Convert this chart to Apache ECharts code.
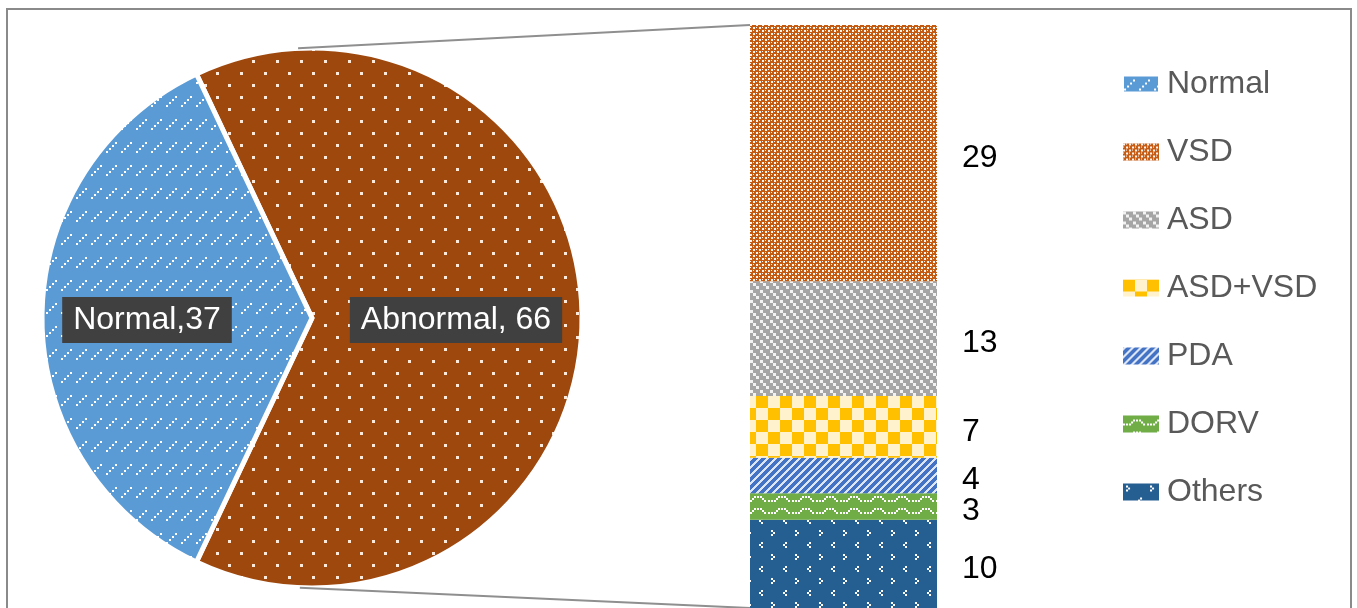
<!DOCTYPE html>
<html>
<head>
<meta charset="utf-8">
<script src="https://cdn.jsdelivr.net/npm/echarts@6/dist/echarts.min.js"></script>
<style>
html,body{margin:0;padding:0;background:#fff;}
#chart{width:1357px;height:608px;}
</style>
</head>
<body>
<div id="chart"></div>
<script>
// ---- data ----
const pieNames = ['Abnormal', 'Normal'];
const pieValues = [66, 37];
const barNames = ['VSD', 'ASD', 'ASD+VSD', 'PDA', 'DORV', 'Others'];
const barValues = [29, 13, 7, 4, 3, 10];
const legendNames = ['Normal', 'VSD', 'ASD', 'ASD+VSD', 'PDA', 'DORV', 'Others'];

// ---- pattern helpers ----
function tile(w, h, bg, draw) {
  const c = document.createElement('canvas');
  c.width = w; c.height = h;
  const g = c.getContext('2d');
  g.fillStyle = bg; g.fillRect(0, 0, w, h);
  g.fillStyle = '#fff';
  draw(g, w, h);
  return { image: c, repeat: 'repeat' };
}
function wrapRect(g, x, y, rw, rh, w, h) {
  for (const dx of [-w, 0, w]) for (const dy of [-h, 0, h]) g.fillRect(x + dx, y + dy, rw, rh);
}
const patterns = {
  'Normal': tile(15, 23, '#5B9BD5', g => {
    [[0, 9], [3, 6], [6, 3], [9, 0]].forEach(([x, y]) => g.fillRect(x + 1, y + 4, 2, 2));
  }),
  'Abnormal': tile(24, 24, '#9E480E', g => {
    g.fillStyle = '#fde9d9'; g.fillRect(0, 0, 3, 3); g.fillRect(12, 12, 3, 3);
  }),
  'VSD': tile(6, 6, '#C55A11', g => {
    g.fillStyle = '#fff5ee';
    g.fillRect(0, 0, 2, 2); g.fillRect(3, 3, 2, 2); g.fillRect(0, 3, 1, 1); g.fillRect(3, 0, 1, 1);
  }),
  'ASD': tile(10, 10, '#A5A5A5', (g, w, h) => {
    g.fillStyle = '#f2f2f2';
    [[0, 0], [3, 3], [6, 6]].forEach(([x, y]) => wrapRect(g, x, y, 3, 3, w, h));
  }),
  'ASD+VSD': tile(24, 24, '#FFF2CC', g => {
    g.fillStyle = '#FFC000'; g.fillRect(0, 0, 12, 12); g.fillRect(12, 12, 12, 12);
  }),
  'PDA': tile(8, 8, '#4472C4', g => {
    g.fillStyle = '#dde6f6';
    for (let y = 0; y < 8; y++) for (let x = 0; x < 8; x++) if ((x + y) % 8 < 3) g.fillRect(x, y, 1, 1);
  }),
  'DORV': tile(24, 12, '#70AD47', g => {
    [[0, 8], [3, 8], [6, 8], [8, 6], [10, 4], [13, 4], [16, 4], [18, 6], [20, 8]].forEach(([x, y]) => g.fillRect(x, y, 2, 2));
  }),
  'Others': tile(24, 24, '#255E91', g => {
    [[3, 2], [5, 4], [3, 6], [17, 14], [15, 16], [17, 18]].forEach(([x, y]) => g.fillRect(x, y, 2, 2));
  })
};

const FONT = 'Liberation Sans, Arial, sans-serif';
const pieCenter = [312, 318];
const pieRadius = 270;
const barGrid = { left: 750, width: 187, top: 25, height: 585 };
const pieTotal = pieValues.reduce((a, b) => a + b, 0);
const barTotal = barValues.reduce((a, b) => a + b, 0);

const chart = echarts.init(document.getElementById('chart'));

const barSeries = barNames.slice().reverse().map(name => {
  const i = barNames.indexOf(name);
  return {
    type: 'bar', name: name, stack: 'abn', barWidth: '100%',
    data: [barValues[i]],
    itemStyle: { color: patterns[name] },
    label: { show: true, position: 'right', distance: 25, offset: [0, 5], fontSize: 32, fontFamily: FONT, color: '#000' }
  };
});

chart.setOption({
  animation: false,
  backgroundColor: '#fff',
  textStyle: { fontFamily: FONT },
  legend: {
    data: legendNames,
    orient: 'vertical', left: 1117, top: 63, icon: 'rect',
    itemWidth: 36, itemHeight: 17, itemGap: 36,
    textStyle: { fontSize: 32, color: '#595959', fontFamily: FONT, lineHeight: 32, padding: [0, 0, 0, 3] },
    selectedMode: false
  },
  grid: { left: barGrid.left, width: barGrid.width, top: barGrid.top, height: barGrid.height },
  xAxis: { type: 'category', data: ['Abnormal'], show: false },
  yAxis: { type: 'value', min: 0, max: barTotal, show: false },
  series: [
    {
      type: 'pie', center: pieCenter, radius: pieRadius,
      startAngle: 180 * pieValues[0] / pieTotal, clockwise: true,
      data: pieNames.map((n, i) => ({ name: n, value: pieValues[i], itemStyle: { color: patterns[n] } })),
      itemStyle: { borderColor: '#fff', borderWidth: 5 },
      label: {
        show: true, position: 'inside',
        formatter: p => p.dataIndex === 0 ? p.name + ', ' + p.value : p.name + ',' + p.value,
        fontSize: 32, lineHeight: 32, color: '#fff', fontFamily: FONT,
        backgroundColor: '#404040', padding: [7, 11]
      },
      labelLayout: p => ({ dx: p.dataIndex === 0 ? 3 : -13.5, dy: 1 }),
      labelLine: { show: false },
      emphasis: { disabled: true }
    }
  ].concat(barSeries)
});

// connector lines: tangents from bar corners to the pie circle
const cx = chart.convertToPixel({ xAxisIndex: 0 }, 'Abnormal');
const barLeft = cx - barGrid.width / 2;
const yTop = chart.convertToPixel({ yAxisIndex: 0 }, barTotal);
const yBot = chart.convertToPixel({ yAxisIndex: 0 }, 0);
function tangent(px, py, sign) {
  const dx = px - pieCenter[0], dy = py - pieCenter[1];
  const d = Math.sqrt(dx * dx + dy * dy);
  const th = Math.atan2(dy, dx) + sign * Math.acos(pieRadius / d);
  return [pieCenter[0] + pieRadius * Math.cos(th), pieCenter[1] + pieRadius * Math.sin(th)];
}
const tTop = tangent(barLeft, yTop, -1);
const tBot = tangent(barLeft, yBot, 1);
chart.setOption({
  graphic: [
    { type: 'line', shape: { x1: tTop[0], y1: tTop[1], x2: barLeft, y2: yTop }, style: { stroke: '#8f8f8f', lineWidth: 2 }, z: 10 },
    { type: 'line', shape: { x1: tBot[0], y1: tBot[1], x2: barLeft, y2: yBot }, style: { stroke: '#8f8f8f', lineWidth: 2 }, z: 10 },
    { type: 'rect', shape: { x: 7, y: 9, width: 1344, height: 640 }, style: { stroke: '#8a8a8a', fill: null, lineWidth: 2 }, z: 20 }
  ]
});
</script>
</body>
</html>
